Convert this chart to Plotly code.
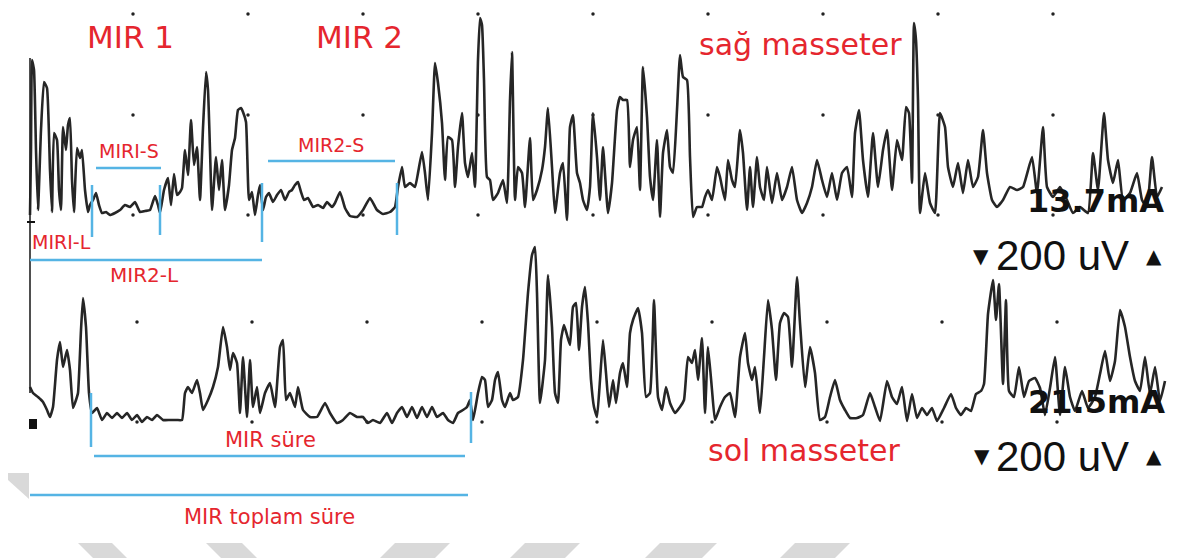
import plotly.graph_objects as go

# ---------------- data ----------------
# upper trace: "sağ masseter" (time, level on screen scale)
sag_t = [30,31,32,34,36,38,41,44,47,50,52,54,57,59,61,63,66,68,70,72,74,77,80,82,85,88,90,93,96,99,
         102,106,110,115,120,125,130,135,140,145,150,155,158,160,164,168,171,174,177,180,182,185,188,191,194,197,200,203,206,208,
         210,212,216,219,222,225,229,232,235,238,241,243,246,249,252,255,258,260,263,266,269,273,277,281,285,289,292,295,298,301,
         304,308,313,318,323,327,332,335,340,345,350,357,363,370,377,383,390,395,398,402,405,410,415,418,422,425,428,432,435,438,
         442,445,448,452,455,458,462,465,468,472,475,478,480,482,484,487,490,493,498,503,507,510,512,515,518,522,525,530,533,537,
         542,545,548,552,555,560,563,567,570,573,577,580,583,587,590,593,597,600,603,608,612,617,620,623,627,630,633,637,640,643,
         647,650,653,657,660,663,667,670,673,677,680,683,687,690,693,697,702,705,708,712,717,720,725,728,732,735,740,743,747,750,
         753,757,760,764,767,772,777,782,787,792,797,802,807,812,817,822,827,832,837,842,847,852,855,859,863,868,873,878,883,887,
         892,897,902,906,909,912,914,916,918,920,925,930,935,940,945,948,953,958,963,968,973,978,983,987,992,997,1003,1010,1017,1023,
         1032,1037,1043,1047,1053,1060,1067,1073,1080,1088,1093,1098,1104,1108,1113,1118,1123,1130,1137,1142,1147,1152,1157,1162]
sag_y = [215,150,60,70,150,210,130,82,88,170,212,133,140,190,210,127,150,125,118,180,212,148,158,150,190,212,205,200,193,205,
         213,212,215,213,210,205,207,202,212,211,210,196,205,213,190,178,205,174,195,192,188,150,175,120,165,147,200,128,72,90,
         150,210,157,190,160,210,185,150,138,110,108,112,122,200,192,215,195,185,210,197,193,202,195,190,200,192,190,185,182,192,
         200,198,207,205,208,202,207,203,192,208,216,217,210,198,210,214,212,207,187,167,187,183,187,173,152,173,200,133,63,83,
         123,180,137,140,187,147,113,163,177,153,187,60,18,25,80,177,180,200,193,180,203,100,52,200,167,173,207,138,200,190,
         170,147,108,167,213,173,163,220,127,115,173,183,200,210,187,113,157,200,147,213,183,110,97,100,100,167,140,127,190,67,
         117,177,200,140,217,153,130,167,173,110,55,77,80,157,217,207,207,197,190,200,167,177,200,160,180,187,130,153,210,167,
         207,157,187,200,167,203,173,200,187,167,200,213,203,187,160,180,197,173,200,173,167,197,133,110,160,197,133,187,150,130,
         190,140,160,107,113,183,23,40,100,213,173,203,213,113,127,167,187,163,193,160,187,177,130,173,200,207,200,187,190,187,
         157,193,127,187,197,187,200,213,207,213,153,190,113,160,183,160,200,193,173,200,207,157,197,187]

# lower trace: "sol masseter"
sol_t = [30,33,38,43,47,50,53,57,60,63,67,70,73,76,78,81,83,86,89,92,97,102,107,112,117,122,127,132,137,142,
         147,152,157,163,170,177,182,185,188,192,197,200,203,208,213,218,223,227,230,233,237,240,243,247,250,253,257,260,265,270,
         275,280,283,286,290,295,298,303,310,317,325,330,337,343,350,357,363,368,373,380,387,392,397,402,407,412,417,422,427,432,
         437,443,448,453,458,463,467,470,473,478,482,485,488,492,495,498,502,505,510,513,518,523,528,532,535,537,540,545,548,552,
         555,558,561,564,567,570,573,576,579,582,585,588,591,594,597,600,603,606,609,613,616,620,623,627,630,633,638,642,646,650,
         654,658,662,666,670,675,680,684,688,692,695,698,702,705,708,712,715,720,725,730,735,740,745,748,752,755,760,764,768,772,
         776,780,784,788,792,797,800,805,810,815,820,825,830,835,840,845,850,857,863,870,875,880,887,892,897,902,907,912,917,922,
         927,932,937,944,951,956,961,966,971,976,981,984,988,993,996,999,1003,1006,1009,1014,1019,1024,1029,1035,1040,1045,1050,1055,1060,1065,
         1070,1075,1082,1088,1095,1100,1105,1110,1115,1120,1125,1130,1135,1140,1145,1150,1155,1160,1165]
sol_y = [387,393,397,402,410,417,407,360,342,367,350,370,408,400,393,330,298,327,393,413,408,420,413,418,413,418,413,420,415,422,
         417,420,415,420,420,420,420,393,387,393,380,393,410,400,387,367,327,347,370,353,363,413,357,417,360,407,387,413,393,383,
         407,347,340,400,393,407,387,410,417,417,403,413,423,420,413,417,417,423,420,423,413,423,413,407,417,407,418,407,417,407,
         417,413,420,423,413,410,407,400,420,393,377,380,407,400,380,372,400,407,393,400,397,360,293,255,247,293,403,360,275,327,
         393,403,340,325,335,345,307,303,350,307,287,323,380,407,417,380,340,373,407,380,403,373,363,387,333,320,308,333,397,393,
         300,397,410,387,403,413,407,400,357,363,350,380,338,413,347,390,420,407,397,393,417,357,333,363,380,367,413,357,300,330,
         380,323,313,317,367,277,323,387,347,373,420,417,397,380,400,410,418,418,415,393,407,421,381,397,404,387,421,394,418,408,
         415,408,421,408,394,408,415,408,411,394,391,384,314,280,320,284,384,300,391,397,367,397,381,378,388,415,388,357,415,367,
         397,411,391,408,397,374,351,381,361,310,327,357,381,391,357,394,367,401,381]

# reference dot grid of the recorder
grid_x_top = [133, 248, 363, 478, 593, 708, 823, 938, 1053]
grid_y_top = [14, 115, 215]
grid_x_bot = [137, 252, 367, 482, 597, 712, 827, 942, 1057]
grid_y_bot = [322, 422]

# page body has an 8px margin: the figure fills the rest of the window
PAGE_W, PAGE_H, BODY = 1179, 558, 8
RED = "#e5262e"
BLUE = "#55b4e4"

fig = go.Figure()

# grid dots
gx, gy = [], []
for yy in grid_y_top:
    for xx in grid_x_top:
        gx.append(xx); gy.append(yy)
for yy in grid_y_bot:
    for xx in grid_x_bot:
        gx.append(xx); gy.append(yy)
fig.add_trace(go.Scatter(x=gx, y=gy, mode="markers",
                         marker=dict(size=3.5, color="#222222"), hoverinfo="skip"))

for t, v, nm in [(sag_t, sag_y, "sağ masseter"), (sol_t, sol_y, "sol masseter")]:
    fig.add_trace(go.Scatter(x=t, y=v, mode="lines", name=nm,
                             line=dict(color="#262626", width=2.6, shape="spline", smoothing=0.4)))

shapes = []

def poly(pts, color="#d9d9d9"):
    p = "M " + " L ".join(f"{a},{b}" for a, b in pts) + " Z"
    shapes.append(dict(type="path", path=p, xref="x", yref="y",
                       fillcolor=color, line=dict(width=0), layer="below"))

# watermark stripes
poly([(8, 473), (29, 473), (29, 499), (8, 480)])
poly([(78, 543), (112, 543), (127, 558), (93, 558)])
poly([(206, 543), (242, 543), (257, 558), (221, 558)])
poly([(395, 543), (450, 543), (435, 558), (380, 558)])
poly([(525, 543), (580, 543), (565, 558), (510, 558)])
poly([(660, 543), (717, 543), (702, 558), (645, 558)])
poly([(795, 543), (850, 543), (835, 558), (780, 558)])

def seg(x0, y0, x1, y1, color=BLUE, w=2.5):
    shapes.append(dict(type="line", x0=x0, y0=y0, x1=x1, y1=y1, xref="x", yref="y",
                       line=dict(color=color, width=w), layer="above"))

# left border line and level markers
seg(30, 58, 30, 393, color="#222222", w=1.6)
seg(27, 222, 35, 222, color="#111111", w=2)
shapes.append(dict(type="rect", x0=29, y0=419, x1=37, y1=429, xref="x", yref="y",
                   fillcolor="#111111", line=dict(width=0)))

# blue measurement lines
seg(92, 185, 92, 237)
seg(160, 185, 160, 235)
seg(262, 183, 262, 242)
seg(397, 183, 397, 235)
seg(96, 168, 161, 168)
seg(268, 161, 395, 161)
seg(30, 260, 262, 260)
seg(91, 393, 91, 447)
seg(471, 392, 471, 443)
seg(94, 456, 465, 456)
seg(30, 495, 468, 495)

fig.update_layout(shapes=shapes)

def txt(s, x, y, size, color=RED, family="DejaVu Sans", xanchor="center", weight="normal"):
    fig.add_annotation(x=x, y=y, xref="x", yref="y", text=s, showarrow=False,
                       xanchor=xanchor, yanchor="middle",
                       font=dict(family=family, size=size, color=color, weight=weight))

txt("MIR 1", 130, 37, 31)
txt("MIR 2", 359, 37, 31)
txt("sağ masseter", 800, 44, 30)
txt("sol masseter", 804, 450, 30)
txt("MIRI-S", 129, 151, 19)
txt("MIR2-S", 331, 145, 19)
txt("MIRI-L", 30, 242, 19, xanchor="left")
txt("MIR2-L", 144, 275, 20)
txt("MIR süre", 270, 440, 21)
txt("MIR toplam süre", 269, 517, 21)

BLK = "#111111"
txt("13.7mA", 1095, 201, 32, color=BLK, weight="bold")
txt("21.5mA", 1096, 402, 32, color=BLK, weight="bold")
txt("200 uV", 1062, 255, 42, color=BLK, family="Liberation Sans")
txt("200 uV", 1062, 456, 42, color=BLK, family="Liberation Sans")
txt("▼", 981, 256, 20, color=BLK)
txt("▲", 1154, 256, 20, color=BLK)
txt("▼", 982, 456, 20, color=BLK)
txt("▲", 1154, 456, 20, color=BLK)

fig.update_layout(
    width=PAGE_W - BODY, height=PAGE_H - BODY,
    margin=dict(l=0, r=0, t=0, b=0, pad=0),
    paper_bgcolor="white", plot_bgcolor="white",
    showlegend=False,
    xaxis=dict(range=[BODY, PAGE_W], visible=False, fixedrange=True),
    yaxis=dict(range=[PAGE_H, BODY], visible=False, fixedrange=True),
)

fig.write_html("out.html")
